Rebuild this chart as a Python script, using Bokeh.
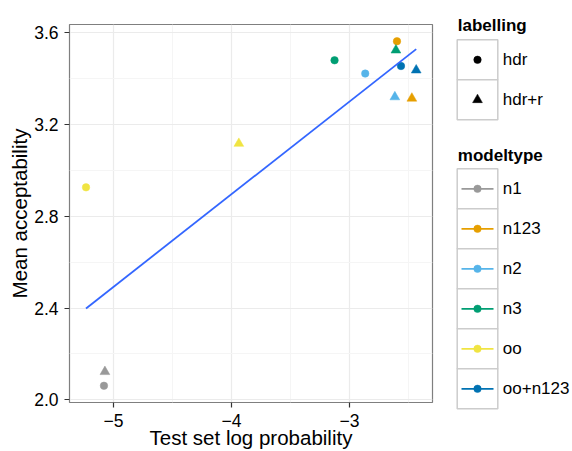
import numpy as np
from bokeh.plotting import figure
from bokeh.models import ColumnDataSource, Range1d, FixedTicker
from bokeh.transform import factor_cmap, factor_mark
from bokeh.layouts import row, column
from bokeh.core.properties import value
from bokeh.embed import file_html
from bokeh.resources import INLINE

# ---------------- data ----------------
modeltypes = ["n1", "n123", "n2", "n3", "oo", "oo+n123"]
palette = ["#999999", "#E69F00", "#56B4E9", "#009E73", "#F0E442", "#0072B2"]
labellings = ["hdr", "hdr+r"]
markers = ["circle", "triangle"]

pt_model = ["n1", "n1", "oo", "oo", "n3", "n2", "n123", "n3",
            "oo+n123", "oo+n123", "n2", "n123"]
pt_label = ["hdr", "hdr+r", "hdr", "hdr+r", "hdr", "hdr", "hdr", "hdr+r",
            "hdr", "hdr+r", "hdr+r", "hdr+r"]
log_prob = [-5.081, -5.073, -5.233, -3.938, -3.127, -2.867, -2.598, -2.607,
            -2.564, -2.435, -2.616, -2.472]
accept = [2.061, 2.122, 2.926, 3.117, 3.480, 3.422, 3.563, 3.524,
          3.455, 3.437, 3.320, 3.314]

x_ticks = [-5, -4, -3]
x_tick_labels = ["\u22125", "\u22124", "\u22123"]
y_ticks = [2.0, 2.4, 2.8, 3.2, 3.6]
y_tick_labels = ["2.0", "2.4", "2.8", "3.2", "3.6"]

FONT = "Liberation Sans"

# ---------------- main panel ----------------
H = 451
p = figure(width=440, height=H, output_backend="svg", toolbar_location=None,
           x_range=Range1d(-5.373, -2.297), y_range=Range1d(1.988, 3.636),
           min_border_left=69, min_border_right=8, min_border_top=24,
           min_border_bottom=49)
p.background_fill_color = "white"
p.border_fill_color = "white"
p.outline_line_color = "#7F7F7F"
p.outline_line_width = 1.2

for ax, ticks, labels in ((p.xaxis[0], x_ticks, x_tick_labels),
                          (p.yaxis[0], y_ticks, y_tick_labels)):
    step = ticks[1] - ticks[0]
    ax.ticker = FixedTicker(ticks=ticks,
                            minor_ticks=[t - step / 2 for t in ticks] + [ticks[-1] + step / 2])
    ax.major_label_overrides = {t: l for t, l in zip(ticks, labels)}
    ax.axis_line_color = None
    ax.major_tick_in = 0
    ax.major_tick_out = 5
    ax.major_tick_line_color = "#333333"
    ax.major_tick_line_width = 1.2
    ax.minor_tick_line_color = None
    ax.major_label_text_font = FONT
    ax.major_label_text_font_size = "17.5px"
    ax.major_label_text_color = "#000000"
    ax.axis_label_text_font = FONT
    ax.axis_label_text_font_size = "20.5px"
    ax.axis_label_text_font_style = "normal"
    ax.axis_label_text_color = "#000000"

p.xaxis.axis_label = "Test set log probability"
p.xaxis.major_label_standoff = 6
p.xaxis.axis_label_standoff = -4
p.yaxis.axis_label = "Mean acceptability"
p.yaxis.major_label_standoff = 6
p.yaxis.axis_label_standoff = 0

p.grid.grid_line_color = "#EBEBEB"
p.grid.grid_line_width = 1.2
p.grid.minor_grid_line_color = "#F5F5F5"
p.grid.minor_grid_line_width = 1.0

src = ColumnDataSource(dict(x=log_prob, y=accept, model=pt_model, lab=pt_label,
                            size=[7.5 if l == "hdr" else 9.8 for l in pt_label]))
p.scatter("x", "y", source=src, size="size",
          marker=factor_mark("lab", markers, labellings),
          fill_color=factor_cmap("model", palette, modeltypes),
          line_color=factor_cmap("model", palette, modeltypes), line_width=0.5)

slope, intercept = np.polyfit(np.array(log_prob), np.array(accept), 1)
xs = np.array([min(log_prob), max(log_prob)])
p.line(xs, intercept + slope * xs, line_color="#3366FF", line_width=1.8)

# ---------------- legend panel ----------------
L = figure(width=132, height=H, output_backend="svg", toolbar_location=None,
           x_range=Range1d(0, 132), y_range=Range1d(H, 0),
           min_border=0, x_axis_type=None, y_axis_type=None)
L.outline_line_color = None
L.grid.visible = False
L.background_fill_color = "white"
L.border_fill_color = "white"

KEY_X, KEY_W, KEY_H = 37.0, 40.6, 40.0
TXT_X = 62.3
TITLE_X = 17.3

# labelling legend
lab_y0 = 39.3
lab_ys = [lab_y0 + KEY_H * (i + 0.5) for i in range(len(labellings))]
L.text(x=[TITLE_X], y=[25], text=["labelling"], text_font=value(FONT),
       text_font_size="17px", text_font_style="bold", text_baseline="middle",
       text_color="#000000")
L.rect(x=[KEY_X] * len(lab_ys), y=lab_ys, width=KEY_W, height=KEY_H,
       fill_color="white", line_color="#CCCCCC", line_width=1.5)
L.scatter(x=[KEY_X] * len(lab_ys), y=lab_ys, marker=markers,
          size=[7.5, 9.8], fill_color="black", line_color="black", line_width=0.5)
L.text(x=[TXT_X] * len(lab_ys), y=lab_ys, text=labellings, text_font=value(FONT),
       text_font_size="17px", text_baseline="middle", text_color="#000000")

# modeltype legend
mod_y0 = 168.3
mod_ys = [mod_y0 + KEY_H * (i + 0.5) for i in range(len(modeltypes))]
L.text(x=[TITLE_X], y=[155], text=["modeltype"], text_font=value(FONT),
       text_font_size="17px", text_font_style="bold", text_baseline="middle",
       text_color="#000000")
L.rect(x=[KEY_X] * len(mod_ys), y=mod_ys, width=KEY_W, height=KEY_H,
       fill_color="white", line_color="#CCCCCC", line_width=1.5)
L.segment(x0=[KEY_X - 16] * len(mod_ys), x1=[KEY_X + 16] * len(mod_ys),
          y0=mod_ys, y1=mod_ys, line_color=palette, line_width=1.8)
L.scatter(x=[KEY_X] * len(mod_ys), y=mod_ys, marker="circle", size=7.5,
          fill_color=palette, line_color=palette, line_width=0.5)
L.text(x=[TXT_X] * len(mod_ys), y=mod_ys, text=modeltypes, text_font=value(FONT),
       text_font_size="17px", text_baseline="middle", text_color="#000000")

layout = row(p, column(L))
open("out.html", "w").write(file_html(layout, INLINE))
